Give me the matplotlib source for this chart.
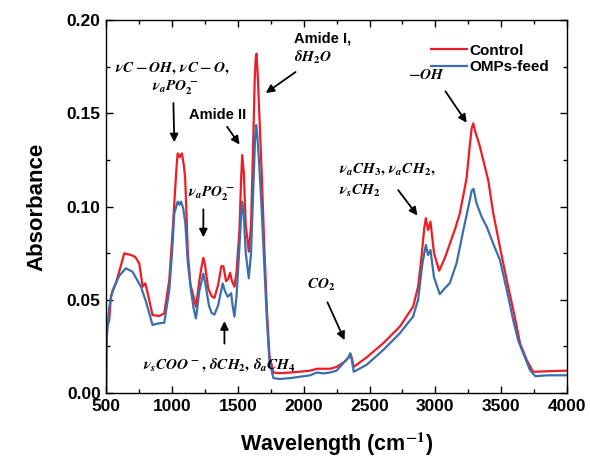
import numpy as np
import matplotlib
matplotlib.use("Agg")
import matplotlib.pyplot as plt
from matplotlib.ticker import MultipleLocator

plt.rcParams['font.family'] = ['Liberation Sans', 'DejaVu Sans']
plt.rcParams['font.weight'] = 'bold'
plt.rcParams['mathtext.fontset'] = 'stix'

# Control (red) spectrum
ctrl_x = [500, 505, 523, 536, 574, 610, 637, 688, 720, 751, 777, 797, 815, 852, 903, 941, 979,
          1005, 1020, 1035, 1043, 1058, 1075, 1090, 1100, 1120, 1140, 1157, 1182, 1208, 1225, 1238,
          1250, 1275, 1300, 1322, 1350, 1375, 1390, 1410, 1425, 1441, 1455, 1474, 1490, 1512, 1525,
          1533, 1545, 1560, 1583, 1600, 1615, 1628, 1636, 1642, 1650, 1660, 1680, 1700, 1720, 1740,
          1770, 1817, 1900, 1969, 2050, 2100, 2150, 2200, 2250, 2311, 2340, 2354, 2365, 2380, 2476,
          2603, 2730, 2831, 2869, 2895, 2915, 2928, 2945, 2963, 2990, 3029, 3070, 3110, 3150, 3186,
          3237, 3262, 3276, 3288, 3300, 3339, 3402, 3440, 3500, 3542, 3600, 3643, 3694, 3742, 3800,
          3900, 4000]
ctrl_y = [0.025, 0.035, 0.039, 0.052, 0.059, 0.068, 0.0749, 0.074, 0.073, 0.0695, 0.057, 0.0588,
          0.0535, 0.0418, 0.0413, 0.0427, 0.0606,
          0.0874, 0.105, 0.122, 0.1285, 0.1265, 0.1285, 0.122, 0.115, 0.075, 0.058, 0.0535, 0.0463,
          0.0606, 0.068, 0.0725,
          0.069, 0.056, 0.052, 0.051, 0.058, 0.068, 0.068, 0.060, 0.061, 0.0645, 0.060, 0.057, 0.065,
          0.0874, 0.115,
          0.1276, 0.118, 0.090, 0.0758, 0.090, 0.130, 0.168, 0.180, 0.182, 0.172, 0.155, 0.12, 0.08,
          0.045, 0.02,
          0.011, 0.0106, 0.011, 0.0114, 0.012, 0.013, 0.013, 0.013, 0.014, 0.0168, 0.019, 0.021, 0.019,
          0.014, 0.019,
          0.0266, 0.0356, 0.0463, 0.057, 0.073, 0.088, 0.0937, 0.0874, 0.0919, 0.075, 0.0656, 0.072,
          0.080, 0.088, 0.0963,
          0.115, 0.133, 0.142, 0.1446, 0.141, 0.132, 0.114, 0.0963, 0.075, 0.0606, 0.042, 0.0267,
          0.0177, 0.0114, 0.0115,
          0.0118, 0.012]

# OMPs-feed (blue) spectrum
omp_x = [500, 505, 523, 548, 600, 650, 700, 764, 802, 852, 903, 941, 979, 1000, 1017, 1043, 1056,
         1068, 1085, 1101, 1120, 1144, 1165, 1182, 1208, 1238, 1255, 1280, 1300, 1322, 1350, 1385,
         1400, 1423, 1449, 1460, 1474, 1490, 1512, 1525, 1533, 1545, 1560, 1583, 1600, 1615, 1630,
         1639, 1648, 1660, 1680, 1700, 1720, 1740, 1770, 1817, 1900, 1969, 2050, 2100, 2150, 2200,
         2250, 2311, 2340, 2354, 2365, 2380, 2476, 2603, 2730, 2831, 2869, 2902, 2928, 2945, 2963,
         2990, 3034, 3070, 3110, 3161, 3212, 3262, 3276, 3290, 3313, 3351, 3390, 3440, 3491, 3540,
         3592, 3630, 3668, 3719, 3760, 3850, 3950, 4000]
omp_y = [0.0, 0.03, 0.046, 0.055, 0.063, 0.0669, 0.065, 0.057, 0.049, 0.0365, 0.0374, 0.0377, 0.055,
         0.075, 0.0963, 0.1026, 0.101,
         0.1026, 0.099, 0.091, 0.07, 0.055, 0.045, 0.040, 0.055, 0.064, 0.058, 0.047, 0.043, 0.042,
         0.047, 0.0588,
         0.055, 0.0516, 0.0535, 0.047, 0.041, 0.052, 0.0785, 0.095, 0.1026, 0.095, 0.075, 0.0615,
         0.075, 0.105, 0.135,
         0.1437, 0.138, 0.125, 0.10, 0.07, 0.04, 0.017, 0.008, 0.0075, 0.008, 0.0087, 0.0095, 0.011,
         0.0105, 0.011,
         0.012, 0.0168, 0.019, 0.0213, 0.018, 0.0114, 0.015, 0.023, 0.032, 0.041, 0.050, 0.0695,
         0.0794, 0.074, 0.0767,
         0.062, 0.053, 0.056, 0.059, 0.0695, 0.087, 0.1035, 0.1085, 0.1095, 0.1017, 0.0946, 0.0892,
         0.080, 0.0713, 0.056,
         0.039, 0.028, 0.0213, 0.0123, 0.009, 0.0095, 0.0095, 0.0095]

fig = plt.figure(figsize=(5.9, 4.61), dpi=100)
ax = fig.add_axes([0.180, 0.1475, 0.781, 0.809])

ax.plot(ctrl_x, ctrl_y, color='#ee1c25', lw=1.6, label='Control')
ax.plot(omp_x, omp_y, color='#3a6fae', lw=1.6, label='OMPs-feed')

ax.set_xlim(500, 4000)
ax.set_ylim(0, 0.20)
ax.xaxis.set_major_locator(MultipleLocator(500))
ax.xaxis.set_minor_locator(MultipleLocator(250))
ax.yaxis.set_major_locator(MultipleLocator(0.05))
ax.yaxis.set_minor_locator(MultipleLocator(0.025))
ax.yaxis.set_major_formatter(matplotlib.ticker.FormatStrFormatter('%.2f'))
ax.tick_params(which='both', direction='in', top=True, right=True, width=1)
ax.tick_params(which='major', length=5, labelsize=12.5, pad=4)
ax.tick_params(which='minor', length=3)
for lab in ax.get_xticklabels() + ax.get_yticklabels():
    lab.set_fontweight('bold')
for s in ax.spines.values():
    s.set_linewidth(1)

ax.set_xlabel('Wavelength (cm$^{\\mathbf{-1}}$)', fontsize=15.5, fontweight='bold', labelpad=12)
ax.set_ylabel('Absorbance', fontsize=16, fontweight='bold', labelpad=14)

ax.legend(loc='upper right', bbox_to_anchor=(0.985, 0.965), frameon=False, fontsize=11,
          handlelength=2.3, handletextpad=0.2, labelspacing=0.15, borderpad=0.2)

arrow = dict(arrowstyle='-|>', color='black', lw=1.3, mutation_scale=12)
mfs = 11

ax.annotate('', xy=(1018, 0.133), xytext=(1010, 0.157), arrowprops=arrow)
ax.text(1000, 0.174, r'$\nu C-OH,\, \nu C-O,$', fontsize=mfs, ha='center', va='center')
ax.text(1025, 0.1635, r'$\nu_a PO_2^-$', fontsize=mfs, ha='center', va='center')

ax.annotate('', xy=(1525, 0.132), xytext=(1406, 0.144), arrowprops=arrow)
ax.text(1347, 0.149, 'Amide II', fontsize=10.5, fontweight='bold', ha='center', va='center')

ax.annotate('', xy=(1695, 0.160), xytext=(1956, 0.173), arrowprops=arrow)
ax.text(1930, 0.190, 'Amide I,', fontsize=10.5, fontweight='bold', ha='left', va='center')
ax.text(1930, 0.180, r'$\delta H_2O$', fontsize=mfs, ha='left', va='center')

ax.annotate('', xy=(1238, 0.082), xytext=(1238, 0.100), arrowprops=arrow)
ax.text(1300, 0.107, r'$\nu_a PO_2^-$', fontsize=mfs, ha='center', va='center')

ax.annotate('', xy=(1398, 0.040), xytext=(1398, 0.025), arrowprops=arrow)
ax.text(1360, 0.015, r'$\nu_s COO^-,\, \delta CH_2,\, \delta_a CH_4$', fontsize=mfs,
        ha='center', va='center')

ax.annotate('', xy=(2319, 0.027), xytext=(2172, 0.050), arrowprops=arrow)
ax.text(2133, 0.058, r'$CO_2$', fontsize=mfs, ha='center', va='center')

ax.annotate('', xy=(2877, 0.094), xytext=(2705, 0.110), arrowprops=arrow)
ax.text(2270, 0.1195, r'$\nu_a CH_3,\, \nu_a CH_2,$', fontsize=mfs, ha='left', va='center')
ax.text(2270, 0.1085, r'$\nu_s CH_2$', fontsize=mfs, ha='left', va='center')

ax.annotate('', xy=(3250, 0.1437), xytext=(3065, 0.163), arrowprops=arrow)
ax.text(2932, 0.1705, r'$-OH$', fontsize=mfs, ha='center', va='center')

fig.savefig('out.png', dpi=100)
